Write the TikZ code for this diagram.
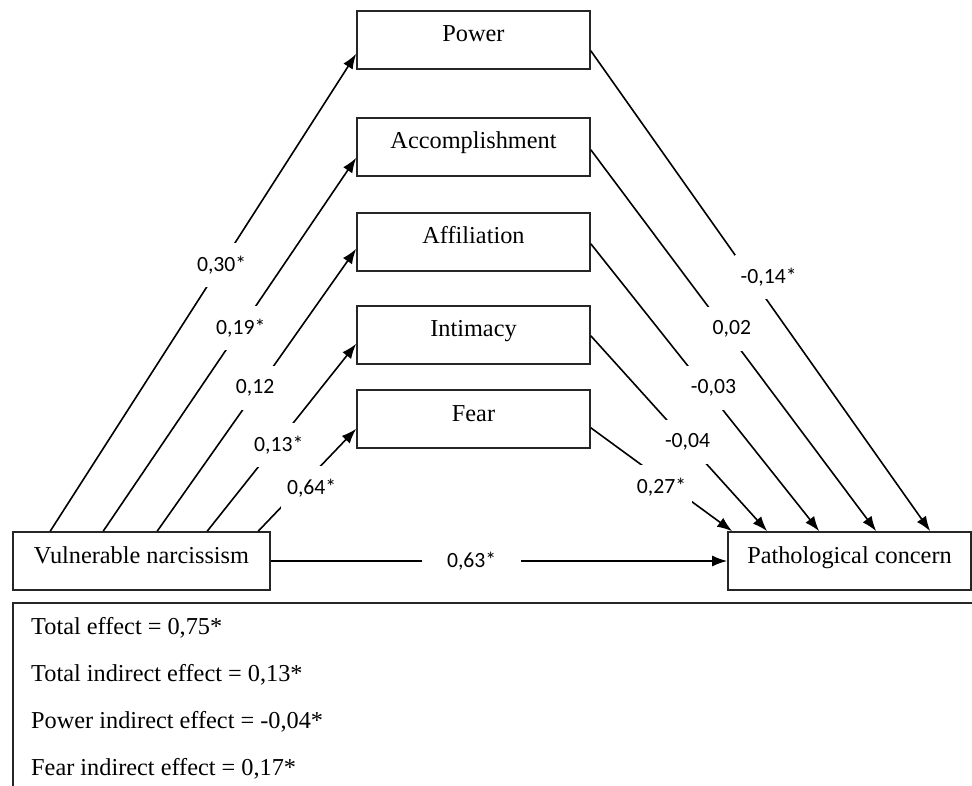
\documentclass[tikz,border=0pt]{standalone}
\usepackage{fontspec}
\setmainfont{Liberation Serif}
\newfontfamily\lblfont{Carlito}
\usetikzlibrary{arrows.meta}

\tikzset{
  factor/.style={draw=black!85, line width=1.6pt, minimum width=233pt, text height=27pt, text depth=23pt, inner ysep=4pt, font=\fontsize{24.3}{29}\selectfont},
  arr/.style={line width=1.6pt, -{Latex[length=15pt,width=11pt]}},
  coef/.style={fill=white, inner xsep=6pt, minimum height=44pt, font=\lblfont\fontsize{21.7}{26}\selectfont},
}

\begin{document}
\begin{tikzpicture}[x=1pt, y=-1pt]
  \useasboundingbox (0,0) rectangle (972,786);
  \node[factor] (power) at (473.5,40) {Power};
  \node[factor] (acc) at (473.5,147) {Accomplishment};
  \node[factor] (aff) at (473.5,242) {Affiliation};
  \node[factor] (intim) at (473.5,335) {Intimacy};
  \node[factor] (fear) at (473.5,419) {Fear};
  \node[factor, minimum width=257pt] (vn) at (141.5,561) {Vulnerable narcissism};
  \node[factor, minimum width=243pt] (pc) at (849.5,561) {Pathological concern};
  \foreach \m/\sx/\ty/\w/\p/\dx in {power/38/16/{0,30*}/0.557/1, acc/91/19/{0,19*}/0.544/0, aff/145/23/{0,12}/0.507/-3, intim/195/21/{0,13*}/0.46/3, fear/246/20/{0,64*}/0.423/12} {
    \draw[arr] ([xshift=\sx pt]vn.north west) -- node[coef, pos=\p, xshift=\dx pt] {\w} ([yshift=\ty pt]\m.south west);
  }
  \foreach \m/\sy/\ex/\w/\p/\dx in {power/19/203/{-0,14*}/0.471/18, acc/27/149/{0,02}/0.47/7, aff/28/92/{-0,03}/0.502/8, intim/29/40/{-0,04}/0.543/1, fear/21/5/{0,27*}/0.571/-10} {
    \draw[arr] ([yshift=\sy pt]\m.south east) -- node[coef, pos=\p, xshift=\dx pt] {\w} ([xshift=\ex pt]pc.north west);
  }
  \draw[arr] (vn) -- node[coef, pos=0.44, inner xsep=25pt] {0,63*} (pc);
  \draw[draw=black!85, line width=1.6pt] (972,603) -- (13,603) -- (13,786);
  \foreach \t [count=\i] in {{Total effect = 0,75*}, {Total indirect effect = 0,13*}, {Power indirect effect = -0,04*}, {Fear indirect effect = 0,17*}}
    \node[anchor=base west, inner sep=0pt, font=\fontsize{24.3}{29}\selectfont] (eff\i) at (31,587+47*\i) {\t};
\end{tikzpicture}
\end{document}
